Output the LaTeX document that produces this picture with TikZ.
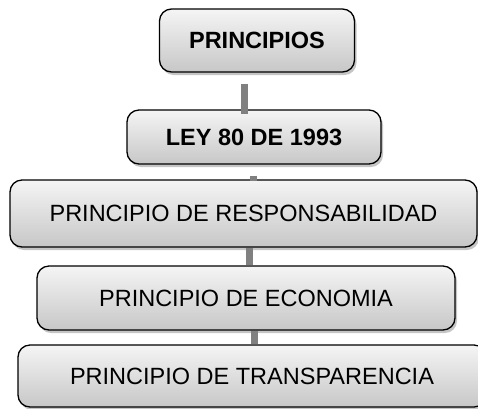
\documentclass[tikz,border=0pt]{standalone}
\usepackage{fontspec}
\setmainfont{Liberation Sans}
\usetikzlibrary{shadows}

\begin{document}
\begin{tikzpicture}[x=1pt,y=-1pt,
        box/.style={draw,rounded corners=12pt,line width=1.3pt,
          top color=black!4,bottom color=black!22,
          drop shadow={shadow xshift=2pt,shadow yshift=-3pt,fill=black!45},
          font=\fontsize{23.5}{26}\selectfont,inner sep=0pt},
        link/.style={draw=black!50,line width=7pt}]

      \useasboundingbox (0,0) rectangle (478,408);

      \node[box,minimum width=195pt,minimum height=63pt] (p1) at (257,40.5) {\textbf{PRINCIPIOS}};
      \node[box,minimum width=254pt,minimum height=54pt] (p2) at (254,137) {\textbf{LEY 80 DE 1993}};
      \node[box,minimum width=467pt,minimum height=67pt] (p3) at (243.5,213.5) {PRINCIPIO DE RESPONSABILIDAD};
      \node[box,minimum width=418pt,minimum height=64pt] (p4) at (246,298) {PRINCIPIO DE ECONOMIA};
      \node[box,minimum width=468pt,minimum height=62pt] (p5) at (252,376) {PRINCIPIO DE TRANSPARENCIA};

      \draw[link] ([xshift=-13pt,yshift=-11pt]p1.south) -- ([xshift=-10pt,yshift=-5pt]p2.north);
      \draw[link] ([xshift=-1pt,yshift=-11pt]p2.south) -- ([xshift=9.5pt,yshift=-2pt]p3.north);
      \draw[link] ([xshift=5.5pt]p3.south) -- ([xshift=3pt]p4.north);
      \draw[link] ([xshift=8pt]p4.south) -- ([xshift=2pt]p5.north);
    \end{tikzpicture}
\end{document}
